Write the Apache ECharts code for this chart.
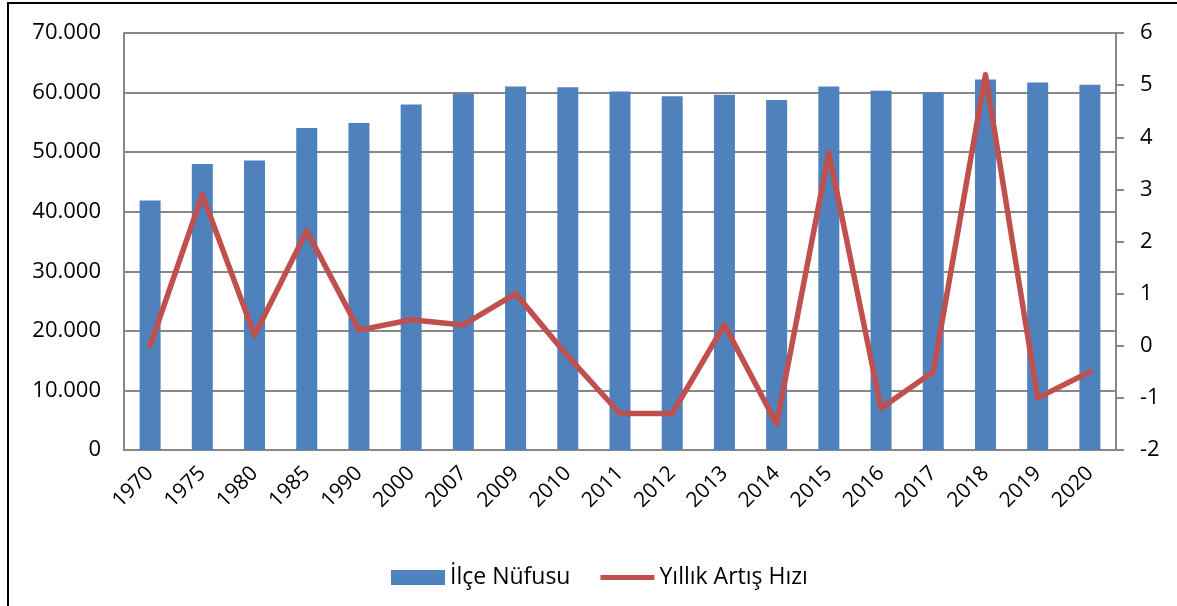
<!DOCTYPE html>
<html>
<head>
<meta charset="utf-8">
<script src="https://cdn.jsdelivr.net/npm/echarts@6/dist/echarts.min.js"></script>
<style>
    html, body { margin: 0; padding: 0; background: #fff; }
    .frame {
        position: absolute; left: 7px; top: 2px; width: 1400px; height: 800px;
        border-left: 2px solid #000; border-top: 2px solid #000;
    }
    #chart { position: absolute; left: 0; top: 0; width: 1177px; height: 606px; }
</style>
</head>
<body>
<div class="frame"></div>
<div id="chart"></div>
<script>
// yıllar
const years = ['1970', '1975', '1980', '1985', '1990', '2000', '2007', '2009', '2010', '2011',
    '2012', '2013', '2014', '2015', '2016', '2017', '2018', '2019', '2020'];
// ilçe nüfusu
const population = [41900, 48000, 48600, 54050, 54900, 58000, 59800, 61000, 60900, 60200,
    59400, 59650, 58750, 61000, 60300, 60000, 62200, 61700, 61300];
// yıllık artış hızı
const growthRate = [0, 2.9, 0.2, 2.2, 0.3, 0.5, 0.4, 1.0, -0.2, -1.3,
    -1.3, 0.4, -1.5, 3.7, -1.2, -0.5, 5.2, -1.0, -0.5];

const fontFamily = '"Open Sans", "Noto Sans", sans-serif';
const gridColor = '#878787';

let chart = echarts.init(document.getElementById('chart'), null, { renderer: 'canvas' });

// binlik ayırıcı nokta
const fmtThousands = v => v === 0 ? '0' : (v / 1000).toFixed(3);

let option = {
    animation: false,
    color: ['#4F81BD', '#C0504D'],
    grid: { left: 124, right: 61, top: 33, bottom: 156 },
    legend: {
        left: 386,
        top: 561,
        itemGap: 30,
        itemWidth: 54,
        itemHeight: 15,
        textStyle: { fontFamily: fontFamily, fontSize: 23, color: '#000' },
        data: [
            { name: 'İlçe Nüfusu', icon: 'rect' },
            // çizgi ikonu: ince şerit, kutu yüksekliği korunuyor
            { name: 'Yıllık Artış Hızı', icon: 'path://M0,0 M0,5 L54,5 L54,10 L0,10 Z M54,15' }
        ]
    },
    xAxis: [{
        type: 'category',
        data: years,
        axisLine: { lineStyle: { color: gridColor, width: 2 } },
        axisTick: { show: false },
        axisLabel: {
            interval: 0,
            rotate: 45,
            margin: 20,
            color: '#000',
            fontFamily: fontFamily,
            fontSize: 21
        }
    }],
    yAxis: [{
        type: 'value',
        min: 0,
        max: 70000,
        interval: 10000,
        axisLine: { show: true, lineStyle: { color: gridColor, width: 2 } },
        axisTick: { show: false },
        splitLine: { lineStyle: { color: gridColor, width: 2 } },
        axisLabel: {
            margin: 23,
            color: '#000',
            fontFamily: fontFamily,
            fontSize: 22,
            formatter: fmtThousands
        }
    }, {
        type: 'value',
        min: -2,
        max: 6,
        interval: 1,
        position: 'right',
        axisLine: { show: true, lineStyle: { color: gridColor, width: 2 } },
        axisTick: { show: true, length: 8, lineStyle: { color: gridColor, width: 2 } },
        splitLine: { show: false },
        axisLabel: {
            margin: 24,
            color: '#000',
            fontFamily: fontFamily,
            fontSize: 22
        }
    }],
    series: [{
        name: 'İlçe Nüfusu',
        type: 'bar',
        yAxisIndex: 0,
        barWidth: 21,
        itemStyle: { color: '#4F81BD' },
        data: population
    }, {
        name: 'Yıllık Artış Hızı',
        type: 'line',
        yAxisIndex: 1,
        symbol: 'none',
        lineStyle: { color: '#C0504D', width: 5.5, cap: 'round', join: 'round' },
        itemStyle: { color: '#C0504D' },
        data: growthRate
    }]
};

chart.setOption(option);
</script>
</body>
</html>
